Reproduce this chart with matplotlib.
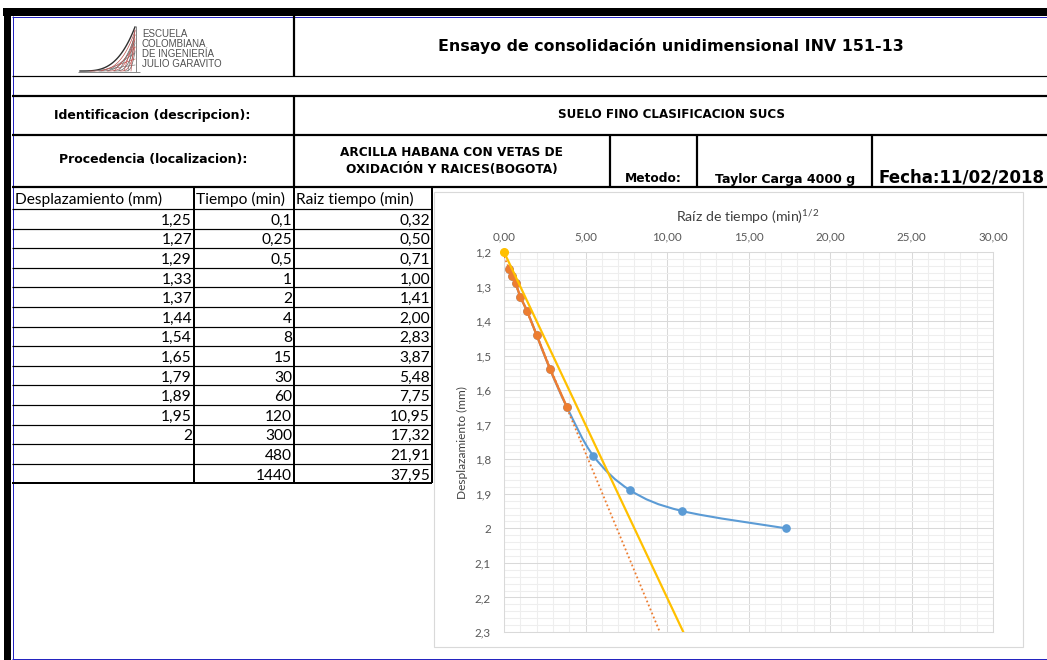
import matplotlib

matplotlib.use("Agg")
import matplotlib.pyplot as plt
import numpy as np
from matplotlib import font_manager
from matplotlib.patches import PathPatch, Rectangle
from matplotlib.path import Path
from matplotlib.ticker import FixedLocator, FuncFormatter, MultipleLocator

W, H = 1047, 660

# Lectura del ensayo (hoja de calculo)
desplazamiento = [1.25, 1.27, 1.29, 1.33, 1.37, 1.44, 1.54, 1.65, 1.79, 1.89, 1.95, 2.0]
tiempo = [0.1, 0.25, 0.5, 1, 2, 4, 8, 15, 30, 60, 120, 300, 480, 1440]
raiz_tiempo = [0.32, 0.50, 0.71, 1.00, 1.41, 2.00, 2.83, 3.87, 5.48, 7.75,
               10.95, 17.32, 21.91, 37.95]
n_tramo_recto = 8          # lecturas usadas para el tramo recto inicial
taylor_x = [0.0, 12.0]     # recta de Taylor (abscisas 1.15x)
taylor_y = [1.2, 2.4]
x_ticks = [0, 5, 10, 15, 20, 25, 30]
y_ticks = [1.2, 1.3, 1.4, 1.5, 1.6, 1.7, 1.8, 1.9, 2.0, 2.1, 2.2, 2.3]

BLUE = "#5B9BD5"
ORANGE = "#ED7D31"
YELLOW = "#FFC000"
GRID_MAJOR = "#d9d9d9"
GRID_MINOR = "#eeeeee"
TICK_GRAY = "#595959"
TITLE_GRAY = "#404040"
PAGE_BLUE = "#2424c0"

installed = {f.name for f in font_manager.fontManager.ttflist}
CELL_FONT = "Lato" if "Lato" in installed else "DejaVu Sans"
NARROW = "Liberation Sans Narrow" if "Liberation Sans Narrow" in installed else "DejaVu Sans"
plt.rcParams["mathtext.fontset"] = "custom"
plt.rcParams["mathtext.rm"] = CELL_FONT


def num(v, fmt="g"):
    return format(v, fmt).replace(".", ",")


def smooth_path(xs, ys):
    """Curva suavizada tipo Excel (Catmull-Rom pasada a Bezier)."""
    p = np.column_stack([xs, ys]).astype(float)
    verts, codes = [p[0]], [Path.MOVETO]
    for i in range(len(p) - 1):
        p0, p1 = p[max(i - 1, 0)], p[i]
        p2, p3 = p[i + 1], p[min(i + 2, len(p) - 1)]
        verts += [p1 + (p2 - p0) / 6, p2 - (p3 - p1) / 6, p2]
        codes += [Path.CURVE4] * 3
    return Path(verts, codes)


fig = plt.figure(figsize=(W / 100, H / 100), dpi=100)
bg = fig.add_axes([0, 0, 1, 1])
bg.set_xlim(0, W)
bg.set_ylim(H, 0)
bg.axis("off")


def hline(y, x0, x1, lw=1.0, color="black"):
    bg.plot([x0, x1], [y, y], color=color, lw=lw * 0.72, solid_capstyle="butt")


def vline(x, y0, y1, lw=1.0, color="black"):
    bg.plot([x, x], [y0, y1], color=color, lw=lw * 0.72, solid_capstyle="butt")


# marco de pagina
bg.add_patch(Rectangle((3, 8), W - 3, 8, color="black", lw=0))
bg.add_patch(Rectangle((4, 8), 7, H - 8, color="black", lw=0))
vline(12.5, 16, H, color=PAGE_BLUE)
hline(16.5, 12, W, color=PAGE_BLUE)
hline(658.5, 12, W, color=PAGE_BLUE)

# encabezado
hline(76, 12, W, lw=1.2)
hline(96, 12, W, lw=2.2)
hline(135, 12, W, lw=2.2)
hline(187, 12, W, lw=2.2)
vline(294, 16, 76, lw=2.2)
vline(294, 96, 187, lw=2.2)
for xv in (610, 697, 872):
    vline(xv, 135, 187, lw=2.2)

# logo
LOGO_GRAY = "#505050"
vline(136, 26, 72, lw=1.0, color="#8a8a8a")
hline(71.5, 78, 140, lw=1.0, color="#8a8a8a")
t = np.linspace(0, 1, 60)
for k, x0 in enumerate([80, 90, 99, 107, 114, 120, 125]):
    xs = x0 + (135 - x0) * t
    ys = 71 - (44 - k * 4) * t ** 3.2
    bg.plot(xs, ys, color="#303030" if k == 0 else ("#c0504d" if k % 2 else "#606060"),
            lw=1.0 if k == 0 else 0.5)
for k, xb in enumerate([94, 101, 108, 114, 119, 124, 128, 131]):
    yb = 71 - 6 * (k + 1)
    bg.plot([xb, 135], [71, max(yb, 30)], color="#c0504d" if k % 2 else "#707070", lw=0.45)

bg.text(142, 29, "ESCUELA\nCOLOMBIANA\nDE INGENIERÍA\nJULIO GARAVITO",
        family="Liberation Sans", fontsize=7.0, color=LOGO_GRAY,
        ha="left", va="top", linespacing=1.0)

bold = dict(family="DejaVu Sans", weight="bold", color="black", ha="center", va="center")
bg.text(671, 46, "Ensayo de consolidación unidimensional INV 151-13", fontsize=11.4, **bold)
bg.text(152, 116, "Identificacion (descripcion):", fontsize=9, **bold)
bg.text(153, 160, "Procedencia (localizacion):", fontsize=9, **bold)
bg.text(672, 115, "SUELO FINO CLASIFICACION SUCS", fontsize=8.6,
        **{**bold, "family": NARROW})
bg.text(452, 153, "ARCILLA HABANA CON VETAS DE", fontsize=8.7, **bold)
bg.text(452, 170, "OXIDACIÓN Y RAICES(BOGOTA)", fontsize=8.7, **bold)
bg.text(653, 178, "Metodo:", fontsize=8.8, **bold)
bg.text(785, 179, "Taylor Carga 4000 g", fontsize=9.0, **bold)
bg.text(878, 177, "Fecha:11/02/2018", fontsize=12, **{**bold, "ha": "left"})

# tabla de lecturas
col_x = [12, 194, 294, 432]
row_top, head_h, row_h = 187, 22, 19.6
n_rows = len(tiempo)
table_bottom = row_top + head_h + n_rows * row_h
for r in range(n_rows):
    hline(row_top + head_h + r * row_h, col_x[0], col_x[-1], lw=1.2)
hline(table_bottom, col_x[0], col_x[-1], lw=2.0)
for xv in col_x[1:]:
    vline(xv, row_top, table_bottom, lw=2.0)

cell = dict(family=CELL_FONT, fontsize=11.2, color="black", va="center")
head_y = row_top + head_h / 2 + 1
bg.text(15, head_y, "Desplazamiento (mm)", ha="left", **cell)
bg.text(196, head_y, "Tiempo (min)", ha="left", **cell)
bg.text(296, head_y, "Raiz tiempo (min)", ha="left", **cell)
for r in range(n_rows):
    yc = row_top + head_h + (r + 0.6) * row_h
    if r < len(desplazamiento):
        bg.text(col_x[1] - 2, yc, num(desplazamiento[r]), ha="right", **cell)
    bg.text(col_x[2] - 2, yc, num(tiempo[r]), ha="right", **cell)
    bg.text(col_x[3] - 2, yc, num(raiz_tiempo[r], ".2f"), ha="right", **cell)

# grafico de Taylor
bg.add_patch(Rectangle((434, 192), 589, 455, facecolor="white",
                       edgecolor=GRID_MAJOR, lw=0.8))
bg.text(748, 217, r"Raíz de tiempo (min)$^{\mathrm{1/2}}$", family=CELL_FONT,
        fontsize=10.2, color=TITLE_GRAY, ha="center", va="center")
bg.text(462, 443, "Desplazamiento (mm)", family=CELL_FONT, fontsize=8.6,
        color=TITLE_GRAY, ha="center", va="center", rotation=90)

ax = fig.add_axes([504 / W, 1 - 632 / H, 489 / W, 380 / H])
ax.set_facecolor("white")
ax.set_xlim(0, 30)
ax.set_ylim(2.3, 1.2)
ax.xaxis.tick_top()
ax.xaxis.set_major_locator(FixedLocator(x_ticks))
ax.yaxis.set_major_locator(FixedLocator(y_ticks))
ax.xaxis.set_minor_locator(MultipleLocator(1))
ax.yaxis.set_minor_locator(MultipleLocator(0.02))
ax.xaxis.set_major_formatter(FuncFormatter(lambda v, _: num(v, ".2f")))
ax.yaxis.set_major_formatter(FuncFormatter(lambda v, _: num(round(v, 1))))
ax.tick_params(which="both", length=0)
ax.tick_params(axis="x", labelsize=8.4, labelcolor=TICK_GRAY, pad=7)
ax.tick_params(axis="y", labelsize=8.4, labelcolor=TICK_GRAY, pad=9.5)
for lab in ax.get_xticklabels() + ax.get_yticklabels():
    lab.set_family(CELL_FONT)
ax.grid(which="minor", color=GRID_MINOR, lw=0.75)
ax.grid(which="major", color=GRID_MAJOR, lw=0.75)
ax.set_axisbelow(True)
for sp in ax.spines.values():
    sp.set_color(GRID_MAJOR)
    sp.set_linewidth(0.75)

n_leidos = len(desplazamiento)
xs_all = raiz_tiempo[:n_leidos]
ax.add_patch(PathPatch(smooth_path(xs_all, desplazamiento), facecolor="none",
                       edgecolor=BLUE, lw=1.5, zorder=3))
ax.plot(xs_all, desplazamiento, "o", color=BLUE, ms=5.2, zorder=3)

xs_rec = raiz_tiempo[:n_tramo_recto]
ys_rec = desplazamiento[:n_tramo_recto]
ax.plot(xs_rec, ys_rec, "-o", color=ORANGE, lw=1.7, ms=5.2, zorder=4)

coef = np.polyfit(xs_rec, ys_rec, 1)
xt = np.array([0.0, 12.0])
ax.plot(xt, np.polyval(coef, xt), color=ORANGE, lw=1.3, ls=(0, (1, 1.4)), zorder=4)

ax.plot(taylor_x, taylor_y, color=YELLOW, lw=1.6, zorder=5)
ax.plot(taylor_x[0], taylor_y[0], "o", color=YELLOW, ms=5.5, zorder=6, clip_on=False)

fig.savefig("out.png", dpi=100)
